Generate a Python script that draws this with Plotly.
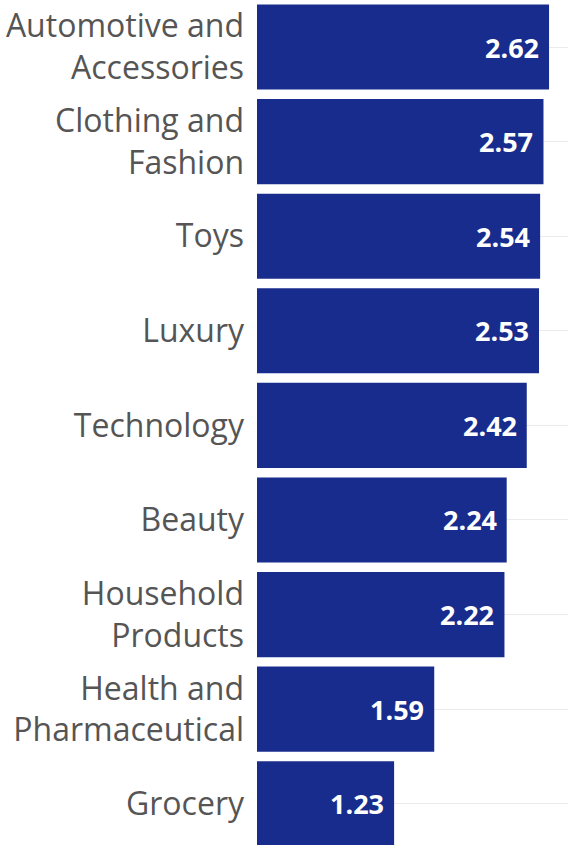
import plotly.graph_objects as go

categories = ["Automotive and<br>Accessories", "Clothing and<br>Fashion", "Toys", "Luxury",
              "Technology", "Beauty", "Household<br>Products", "Health and<br>Pharmaceutical", "Grocery"]
values = [2.62, 2.57, 2.54, 2.53, 2.42, 2.24, 2.22, 1.59, 1.23]
value_labels = [f"{v:.2f}" for v in values]

BAR = "#182c8e"

fig = go.Figure(go.Bar(
    x=values, y=categories, orientation="h",
    marker=dict(color=BAR, line=dict(width=0)),
    hoverinfo="skip",
))

for v, c, t in zip(values, categories, value_labels):
    fig.add_annotation(x=v, y=c, text=f"<b>{t}</b>", showarrow=False,
                       xanchor="right", yanchor="middle", xshift=-8,
                       font=dict(family="Open Sans", size=27, color="white"))

fig.update_layout(
    width=572, height=845,
    margin=dict(l=257, r=4, t=0, b=0),
    paper_bgcolor="white", plot_bgcolor="white",
    bargap=0.1, showlegend=False,
    font=dict(family="Open Sans"),
    xaxis=dict(range=[0, 2.79], showgrid=False, zeroline=False, showticklabels=False, fixedrange=True),
    yaxis=dict(type="category", range=[8.436, -0.497], showgrid=True, gridcolor="#ebebeb", gridwidth=1,
               zeroline=False, ticklabelstandoff=12,
               tickfont=dict(family="Open Sans", size=32, color="#555555")),
)

fig.write_html("out.html")
